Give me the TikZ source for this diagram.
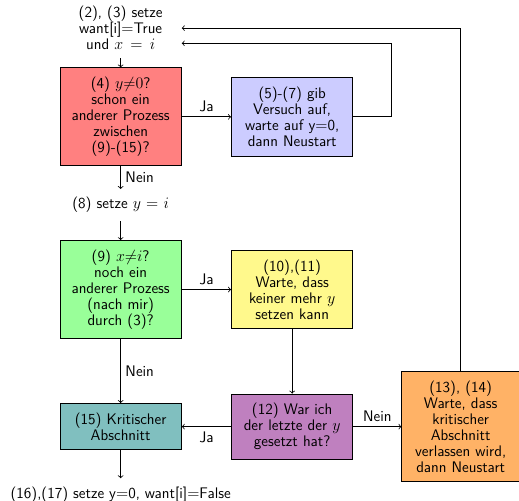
\documentclass[tikz,border=0pt]{standalone}
\usepackage{tikz}
\usetikzlibrary{positioning, calc}
\tikzstyle{block} = [rectangle, text width=2.8cm, inner xsep=0.2cm, inner ysep=7pt, align=center, draw=black, font=\sffamily\fontsize{11.5}{12}\selectfont]
\tikzstyle{note} = [rectangle, text width=2.8cm, inner xsep=0.2cm, inner ysep=6pt, align=center, font=\sffamily\fontsize{11.5}{12}\selectfont]
\tikzstyle{arrow} = [semithick, ->]

\begin{document}
\begin{tikzpicture}[node distance=1.3cm, semithick, every node/.style={font=\sffamily\fontsize{11.5}{12}\selectfont}]
  \useasboundingbox (-3.18,3.08) rectangle (10.50,-10.10);
  \node[block, fill=red!50] (test4) {(4) $y{\neq}0$?\\schon ein\\anderer Prozess\\zwischen\\(9)-(15)?};
  \node[note, above=0.24cm of test4] (start) {(2), (3) setze\\want[i]$=$True\\und $x=i$};
  \node[block, fill=blue!20, right=of test4] (giveup) {(5)-(7) gib\\Versuch auf,\\warte auf y$=$0,\\dann Neustart};
  \node[note, below=0.6cm of test4] (sety) {(8) setze $y=i$};
  \node[block, fill=green!40, below=0.5cm of sety] (test9) {(9) $x{\neq}i$?\\noch ein\\anderer Prozess\\(nach mir)\\durch (3)?};
  \node[block, fill=yellow!45, right=of test9] (wait) {(10),(11)\\Warte, dass\\keiner mehr $y$\\setzen kann};
  \node[block, fill=teal!50, below=1.69cm of test9] (crit) {(15) Kritischer\\Abschnitt};
  \node[block, fill=violet!50, right=of crit] (test12) {(12) War ich\\der letzte der $y$\\gesetzt hat?};
  \node[block, fill=orange!60, right=1.27cm of test12, text width=2.7cm] (restart) {(13), (14)\\Warte, dass\\kritischer\\Abschnitt\\verlassen wird,\\dann Neustart};
  \node[inner ysep=6pt, below=0.74cm of crit] (done) {(16),(17) setze y$=$0, want[i]$=$False};

  \draw[arrow] (start) -- (test4);
  \draw[arrow] (test4) -- node[above]{Ja} (giveup);
  \draw[arrow] (test4) -- node[right]{Nein} (sety);
  \draw[arrow] (giveup.east) -- ++(1.0,0) |- ([yshift=-0.4cm]start.east);
  \draw[arrow] (sety) -- (test9);
  \draw[arrow] (test9) -- node[above]{Ja} (wait);
  \draw[arrow] (test9) -- node[right]{Nein} (crit);
  \draw[arrow] (wait) -- (test12);
  \draw[arrow] (test12) -- node[below]{Ja} (crit);
  \draw[arrow] (test12) -- node[above]{Nein} (restart);
  \draw[arrow] (restart.north) |- (start.east);
  \draw[arrow] (crit) -- (done);
\end{tikzpicture}
\end{document}
